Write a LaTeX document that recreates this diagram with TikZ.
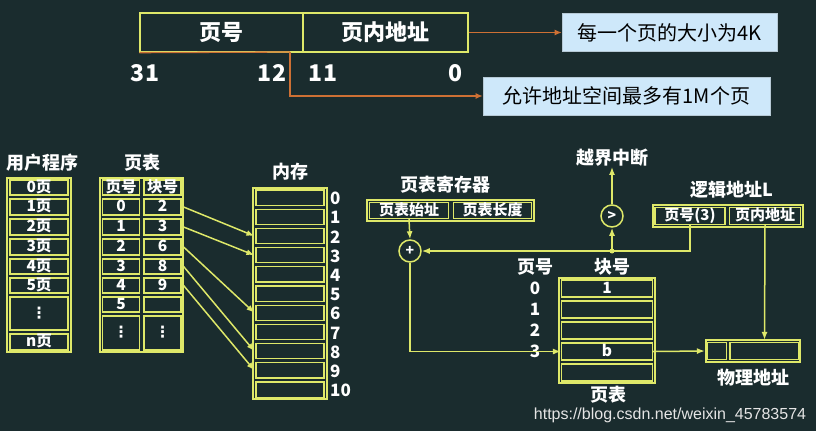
\documentclass[tikz,border=0pt]{standalone}
\usepackage{fontspec}
\setmainfont{Noto Sans CJK SC}
\newfontfamily\wmfont{Liberation Sans}
\newfontfamily\djv{DejaVu Sans}
\usetikzlibrary{arrows.meta,calc}
\definecolor{bg}{RGB}{26,44,46}
\definecolor{yl}{RGB}{222,232,105}
\definecolor{org}{RGB}{205,112,52}
\definecolor{lb}{RGB}{206,232,250}
\newcommand{\vd}{{\djv\bfseries ⋮}}
\begin{document}
\begin{tikzpicture}[x=1pt,y=-1pt,
  cell/.style={draw=yl,line width=1.2pt,inner sep=0pt,text=white,text height=11pt,text depth=1.5pt,font=\fontsize{15.5}{16}\selectfont\bfseries},
  frame/.style={draw=yl,line width=1.2pt},
  lbl/.style={text=white,inner sep=0pt,font=\fontsize{18}{20}\selectfont\bfseries},
  num/.style={text=white,inner sep=0pt,font=\fontsize{17}{18}\selectfont\bfseries},
  big/.style={text=white,inner sep=0pt,font=\fontsize{23}{24}\selectfont\bfseries},
  topbox/.style={draw=yl,line width=1.3pt,minimum height=39pt,inner sep=0pt,text=white,font=\fontsize{22}{24}\selectfont\bfseries},
  blue/.style={fill=lb,draw=lb!70!gray,line width=0.6pt,text=black,inner sep=0pt,font=\fontsize{20}{22}\selectfont},
  oarr/.style={draw=org,line width=1.3pt,-{Latex[length=7pt,width=6pt]}},
  yarr/.style={draw=yl,line width=1.5pt,-{Latex[length=8pt,width=6pt]}},
  circ/.style={circle,draw=yl,line width=1.5pt,minimum size=22pt,inner sep=0pt,text=white,font=\fontsize{14}{14}\selectfont\bfseries}]
\fill[bg] (0,0) rectangle (816,431);
\useasboundingbox (0,0) rectangle (816,431);

% ---------- top address format ----------
\node[topbox,minimum width=163pt] (pn) at (221.5,32.5) {页号};
\node[topbox,minimum width=165pt] (po) at (385.5,32.5) {页内地址};
\node[blue,minimum width=215pt,minimum height=38pt] (b1) at (669.5,32.5) {每一个页的大小为4K};
\node[blue,minimum width=287pt,minimum height=38pt] (b2) at (626.5,96) {允许地址空间最多有1M个页};
\draw[oarr] (po.east) -- (b1.west);
\coordinate (bend) at (290,52);
\draw[draw=org,line width=1.3pt] (pn.south west) -- (bend);
\draw[oarr] (bend) |- (b2.west);
\node[big] (n31) at (145,73) {31};
\node[big] (n12) at (272,73) {12};
\node[big] (n11) at (323,73) {11};
\node[big] (n0) at (455,73) {0};

% ---------- user program ----------
\node[lbl] (uplbl) at (42,163) {用户程序};
\draw[frame] (7,178) rectangle (71,352);
\foreach \t/\b/\l [count=\i from 0] in {178/197/0页,197/217/1页,217/237/2页,237/257/3页,257/276/4页,276/295/5页,295/332/\vd,332/352/n页}
  \node[cell,minimum width=58pt,minimum height={\b-\t-4}] (up\i) at (39,{(\t+\b)/2}) {\l};

% ---------- page table (left) ----------
\node[lbl] (ptlbl) at (142,163) {页表};
\draw[frame] (100,178) rectangle (183,352);
\foreach \t/\b/\l/\m [count=\i from 0] in {178/197/页号/块号,197/217/0/2,217/237/1/3,237/257/2/6,257/276/3/8,276/295/4/9,295/314/5/{},314/352/\vd/\vd}{
  \node[cell,minimum width=37pt,minimum height={\b-\t-4}] (pa\i) at (121,{(\t+\b)/2}) {\l};
  \node[cell,minimum width=37pt,minimum height={\b-\t-4}] (pb\i) at (162.5,{(\t+\b)/2}) {\m};
}

% ---------- memory ----------
\node[lbl] (memlbl) at (290,172) {内存};
\draw[frame] (253,188) rectangle (327,399);
\foreach \i in {0,...,10}{
  \node[cell,minimum width=68pt,minimum height=15.2pt] (mem\i) at (290,{188+19.2*\i+9.6}) {};
  \node[num,anchor=west] (mn\i) at (330,{188+19.2*\i+10.5}) {\i};
}
\foreach \a/\m in {1/2,2/3,3/6,4/8,5/9}
  \draw[yarr] ($(pb\a.east)+(2,0)$) -- ($(mem\m.west)+(-1,0)$);

% ---------- right: address translation ----------
\node[lbl] (regl) at (445,185) {页表寄存器};
\draw[frame] (367,200) rectangle (534,221);
\node[cell,minimum width=79pt,minimum height=16pt,font=\fontsize{15}{16}\selectfont\bfseries] (rs) at (409,210.5) {页表始址};
\node[cell,minimum width=78pt,minimum height=16pt,font=\fontsize{15}{16}\selectfont\bfseries] (rl) at (492.5,210.5) {页表长度};

\node[lbl] (ov) at (612,158) {越界中断};
\node[circ] (cmp) at (612,216) {>};
\draw[yarr] (cmp.north) -- (ov.south);

\node[lbl] (lal) at (732,190) {逻辑地址L};
\draw[frame] (653,205) rectangle (803,227);
\node[cell,minimum width=70pt,minimum height=17pt,font=\fontsize{15}{16}\selectfont\bfseries] (lp) at (690,216) {页号(3)};
\node[cell,minimum width=71pt,minimum height=17pt,font=\fontsize{15}{16}\selectfont\bfseries] (lo) at (765,216) {页内地址};

\node[circ] (pl) at (410,251) {+};
\draw[yarr] (rs.south) -- (pl.north);
\draw[yarr] (lp.south) |- (pl.east);
\coordinate (jn) at (612,251);
\fill[yl] (jn) circle (2.5pt);
\draw[yarr] (jn) -- (cmp.south);

\node[lbl] (kh) at (612,267) {块号};
\node[lbl] (yh) at (535,267) {页号};

\draw[frame] (559,278) rectangle (655,383);
\foreach \t/\b/\l [count=\i from 0] in {278/299/1,299/320/{},320/341/{},341/362/b,362/383/{}}
  \node[cell,minimum width=91pt,minimum height={\b-\t-4}] (tr\i) at (607,{(\t+\b)/2}) {\l};
\foreach \i in {0,...,3}
  \node[num] (rn\i) at (535,{288.5+21*\i}) {\i};
\node[lbl] (ptl2) at (608,395) {页表};
\draw[yarr] (pl.south) |- (tr3.west);

\draw[frame] (706,340) rectangle (800,362);
\node[cell,minimum width=19pt,minimum height=17pt] (ph1) at (717,351) {};
\node[cell,minimum width=69pt,minimum height=17pt] (ph2) at (764.5,351) {};
\node[lbl] (phl) at (753,378) {物理地址};
\draw[yarr] (tr3.east) -- ($(ph1.west)+(-2,0)$);
\draw[yarr] (lo.south) -- ($(ph2.north)+(0,-2)$);

% watermark
\node[text=white!80!gray,inner sep=0pt,font=\wmfont\fontsize{16}{18}\selectfont] (wm) at (670,415) {https://blog.csdn.net/weixin\_45783574};
\end{tikzpicture}
\end{document}
